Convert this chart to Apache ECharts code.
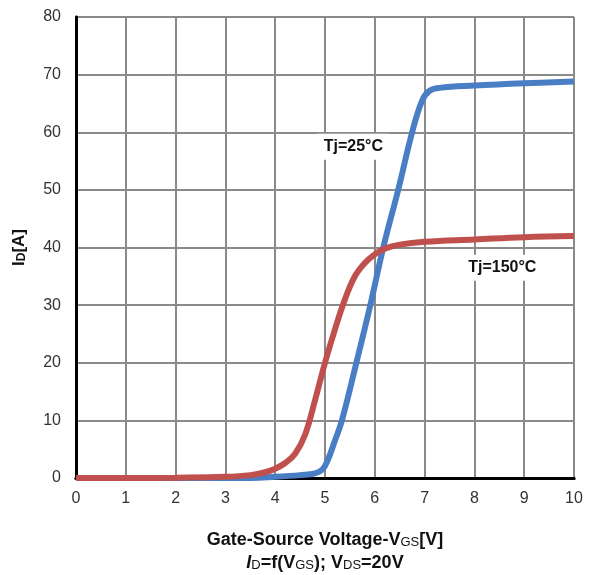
<!DOCTYPE html>
<html>
<head>
<meta charset="utf-8">
<script src="https://cdn.jsdelivr.net/npm/echarts@6/dist/echarts.min.js"></script>
<style>
html, body { margin: 0; padding: 0; background: #fff; }
#chart { width: 593px; height: 575px; }
</style>
</head>
<body>
<div id="chart"></div>
<script>
var chart = echarts.init(document.getElementById("chart"));

// Tj=25°C transfer curve [Vgs, Id]
var vgs25 = [0, 1, 2, 3, 3.5, 4, 4.5, 4.8, 4.95, 5.05, 5.2, 5.34, 5.63, 5.91, 6.17, 6.47, 6.75, 6.95, 7.1, 7.3, 8, 9, 10];
var id25  = [0, 0, 0, 0, 0, 0.2, 0.5, 0.8, 1.5, 3, 6.5, 10, 20, 30, 40, 50, 60, 65.5, 67.2, 67.7, 68.1, 68.5, 68.8];

// Tj=150°C transfer curve
var vgs150 = [0, 1, 2, 3, 3.5, 3.8, 4, 4.2, 4.4, 4.6, 4.8, 5.0, 5.2, 5.4, 5.6, 5.8, 6.0, 6.2, 6.5, 7, 8, 9, 10];
var id150  = [0, 0, 0.05, 0.2, 0.5, 1, 1.6, 2.6, 4.2, 7.5, 13.5, 20, 25.8, 31, 35, 37.3, 38.8, 39.8, 40.5, 41, 41.4, 41.8, 42];

var xTicks = [0, 1, 2, 3, 4, 5, 6, 7, 8, 9, 10];
var yTicks = [0, 10, 20, 30, 40, 50, 60, 70, 80];

function pairs(xs, ys) {
    return xs.map(function (x, i) { return [x, ys[i]]; });
}

var FONT = 'Liberation Sans, Arial';

function tag(text, x, y, w) {
    return {
        symbol: 'rect',
        symbolSize: [w, 26],
        itemStyle: { color: '#fff' },
        label: {
            show: true, position: 'inside', formatter: text,
            fontFamily: FONT, fontWeight: 'bold', fontSize: 16, color: '#111'
        },
        data: [{ coord: [x, y] }],
        silent: true
    };
}

var option = {
    backgroundColor: '#fff',
    animation: false,
    grid: { left: 76, right: 19, top: 17, bottom: 97, outerBoundsMode: 'none' },
    xAxis: [
        {
            type: 'value',
            min: 0, max: 10, interval: 1,
            axisLine: { lineStyle: { color: '#111', width: 3 } },
            axisTick: { show: false },
            axisLabel: {
                margin: 13,
                fontFamily: FONT,
                fontSize: 16,
                color: '#333',
                formatter: function (v) { return xTicks.indexOf(v) >= 0 ? String(v) : ''; }
            },
            splitLine: { lineStyle: { color: '#8a8a8a', width: 2 } },
            name: '{a|Gate-Source Voltage-V}{s|GS}{a|[V]}\n{i|I}{s|D}{a|=f(V}{s|GS}{a|); V}{s|DS}{a|=20V}',
            nameLocation: 'middle',
            nameGap: 48,
            nameTextStyle: {
                fontFamily: FONT,
                lineHeight: 23,
                rich: {
                    a: { fontSize: 18, fontWeight: 'bold', color: '#111', fontFamily: FONT, verticalAlign: 'bottom', lineHeight: 23 },
                    i: { fontSize: 18, fontWeight: 'bold', fontStyle: 'italic', color: '#111', fontFamily: FONT, verticalAlign: 'bottom', lineHeight: 23 },
                    s: { fontSize: 13, color: '#111', fontFamily: FONT, verticalAlign: 'bottom', lineHeight: 20 }
                }
            }
        },
        {
            type: 'value', position: 'top',
            min: 0, max: 10,
            axisLine: { lineStyle: { color: '#000', width: 3 } },
            axisTick: { show: false }, axisLabel: { show: false }, splitLine: { show: false }
        }
    ],
    yAxis: [
        {
            type: 'value',
            min: 0, max: 80, interval: 10,
            axisLine: { show: true, lineStyle: { color: '#444', width: 3 } },
            axisTick: { show: false },
            axisLabel: {
                margin: 15,
                fontFamily: FONT,
                fontSize: 16,
                color: '#333',
                formatter: function (v) { return yTicks.indexOf(v) >= 0 ? String(v) : ''; }
            },
            splitLine: { lineStyle: { color: '#8a8a8a', width: 2 } },
            name: '{a|I}{s|D}{a|[A]}',
            nameLocation: 'middle',
            nameGap: 48,
            nameTextStyle: {
                rich: {
                    a: { fontSize: 17, fontWeight: 'bold', color: '#111', fontFamily: FONT, verticalAlign: 'bottom', lineHeight: 22 },
                    s: { fontSize: 12, fontWeight: 'bold', color: '#111', fontFamily: FONT, verticalAlign: 'bottom', lineHeight: 17 }
                }
            }
        },
        {
            type: 'value', position: 'right',
            min: 0, max: 80,
            axisLine: { show: true, lineStyle: { color: '#000', width: 3 } },
            axisTick: { show: false }, axisLabel: { show: false }, splitLine: { show: false }
        }
    ],
    series: [
        {
            name: 'Tj=150°C',
            type: 'line',
            data: pairs(vgs150, id150),
            smooth: 0.4,
            showSymbol: false,
            lineStyle: { color: '#C0504D', width: 6 },
            z: 3,
            markPoint: tag('Tj=150°C', 8.56, 36.5, 80)
        },
        {
            name: 'Tj=25°C',
            type: 'line',
            data: pairs(vgs25, id25),
            smooth: 0.4,
            showSymbol: false,
            lineStyle: { color: '#4A7EC4', width: 6 },
            z: 2,
            markPoint: tag('Tj=25°C', 5.57, 57.5, 72)
        }
    ]
};

chart.setOption(option);
</script>
</body>
</html>
